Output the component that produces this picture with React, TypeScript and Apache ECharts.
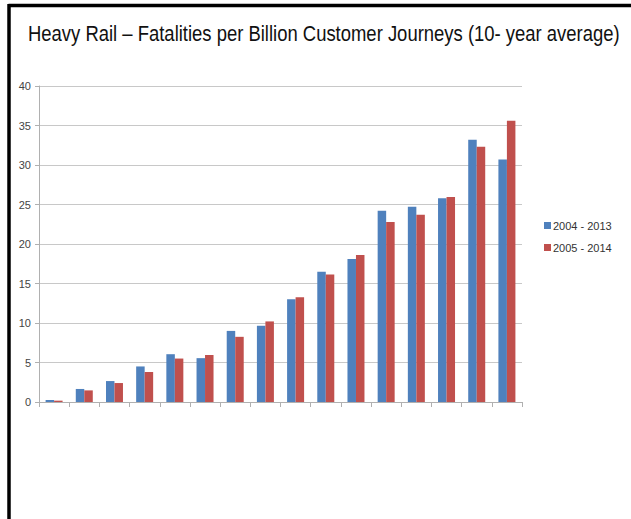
import React, { useEffect, useRef } from "react";
import * as echarts from "echarts";

const categories = ["1", "2", "3", "4", "5", "6", "7", "8", "9", "10", "11", "12", "13", "14", "15", "16"];
const series2004to2013 = [0.25, 1.65, 2.65, 4.5, 6.05, 5.55, 9.0, 9.65, 13.0, 16.5, 18.1, 24.2, 24.7, 25.8, 33.2, 30.7];
const series2005to2014 = [0.17, 1.47, 2.4, 3.8, 5.5, 5.95, 8.25, 10.2, 13.25, 16.15, 18.6, 22.8, 23.7, 25.95, 32.3, 35.6];
const yTicks = [0, 5, 10, 15, 20, 25, 30, 35, 40];
const titleText = "Heavy Rail – Fatalities per Billion Customer Journeys (10- year average)";

const TITLE_FONT = "Liberation Sans, Arial, sans-serif";
const TITLE_SIZE = 22;
const TITLE_WIDTH = 592;

function measure(text: string, font: string): number {
  try {
    const c = document.createElement("canvas");
    const ctx = c.getContext("2d");
    if (!ctx) return TITLE_WIDTH;
    ctx.font = font;
    return ctx.measureText(text).width || TITLE_WIDTH;
  } catch {
    return TITLE_WIDTH;
  }
}

export default function App() {
  const ref = useRef<HTMLDivElement>(null);
  useEffect(() => {
    if (!ref.current) return;
    const chart = echarts.init(ref.current, null, { renderer: "svg" });
    const w = measure(titleText, `${TITLE_SIZE}px ${TITLE_FONT}`);
    const sx = Math.min(1, TITLE_WIDTH / w);
    const smallFont = "Liberation Sans, Arial, sans-serif";
    chart.setOption({
      animation: false,
      backgroundColor: "#ffffff",
      graphic: [
        { type: "line", shape: { x1: 8.5, y1: 5.5, x2: 631, y2: 5.5 }, style: { stroke: "#000", lineWidth: 3.5 } },
        { type: "line", shape: { x1: 9, y1: 4, x2: 9, y2: 519 }, style: { stroke: "#000", lineWidth: 3.5 } },
        {
          type: "text",
          x: 28,
          y: 33,
          scaleX: sx,
          style: {
            text: titleText,
            fontFamily: TITLE_FONT,
            fontSize: TITLE_SIZE,
            fill: "#111111",
            align: "left",
            verticalAlign: "middle",
          },
        },
      ],
      legend: {
        orient: "vertical",
        left: 539,
        top: 215,
        itemWidth: 7,
        itemHeight: 7,
        itemGap: 11,
        icon: "rect",
        textStyle: { fontSize: 11, color: "#333", fontFamily: smallFont, padding: [0, 0, 0, -3] },
        data: ["2004 - 2013", "2005 - 2014"],
      },
      grid: { left: 39, right: 109, top: 86, bottom: 117, containLabel: false },
      xAxis: {
        type: "category",
        data: categories,
        axisLine: { lineStyle: { color: "#b0b0b0" } },
        axisTick: { show: true, alignWithLabel: false, length: 5, lineStyle: { color: "#b0b0b0" } },
        axisLabel: { show: false },
      },
      yAxis: {
        type: "value",
        min: 0,
        max: 40,
        interval: 5,
        axisLine: { show: true, lineStyle: { color: "#b0b0b0" } },
        axisTick: { show: true, length: 4, lineStyle: { color: "#b0b0b0" } },
        axisLabel: {
          color: "#444",
          fontSize: 11,
          margin: 8,
          fontFamily: smallFont,
          formatter: (v: number) => (yTicks.includes(v) ? String(v) : ""),
        },
        splitLine: { lineStyle: { color: "#c8c8c8", width: 1.2 } },
      },
      series: [
        {
          name: "2004 - 2013",
          type: "bar",
          data: series2004to2013,
          barWidth: 8.5,
          barGap: "0%",
          itemStyle: { color: "#4F81BD" },
        },
        {
          name: "2005 - 2014",
          type: "bar",
          data: series2005to2014,
          barWidth: 8.5,
          barGap: "0%",
          itemStyle: { color: "#C0504D" },
        },
      ],
    });
    return () => chart.dispose();
  }, []);
  return <div ref={ref} style={{ position: "fixed", left: 0, top: 0, width: 631, height: 519 }} />;
}
